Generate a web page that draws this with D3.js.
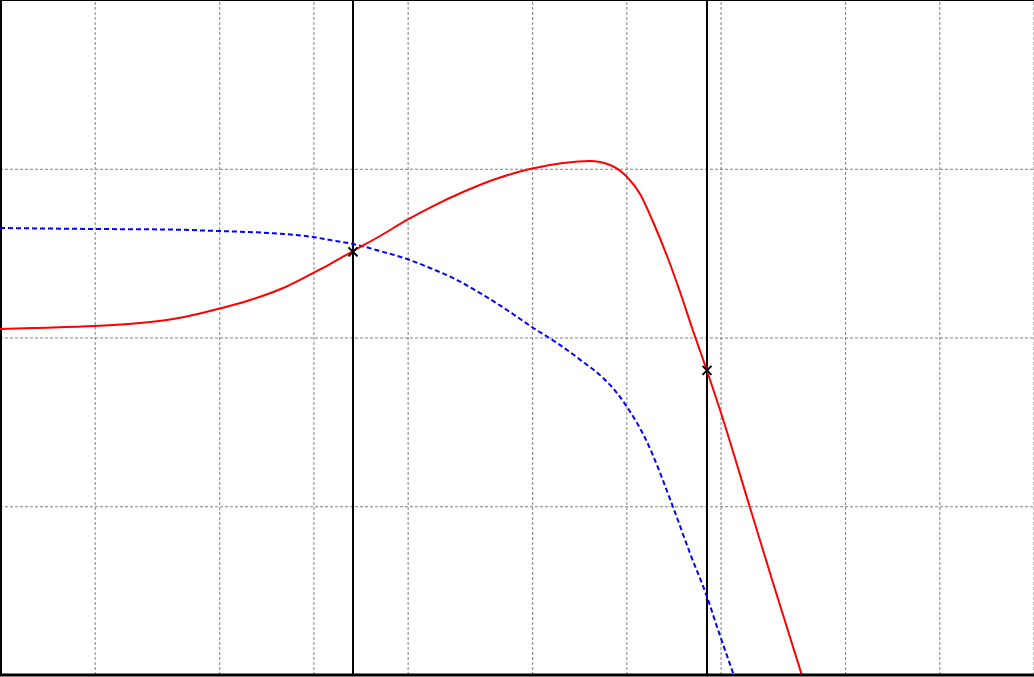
<!DOCTYPE html>
<html>
<head>
<meta charset="utf-8">
<script src="https://cdn.jsdelivr.net/npm/d3@7/dist/d3.min.js"></script>
<style>
html,body{margin:0;padding:0;background:#fff;}
svg{display:block;}
</style>
</head>
<body>
<svg id="chart" width="1034" height="677"></svg>
<script>
// ---- data ----
const xTicks = [2, 5, 10, 20, 50, 100, 200, 500, 1000, 2000];
const yTicks = [-20, 0, 20];

const redFreq = [1, 1.275, 2.01, 2.80, 3.57, 4.97, 6.16, 8.03, 10.0, 11.34, 13.43, 16.39, 19.98, 24.56, 30.18, 36.81, 49.4, 63.0, 76.8, 89.0, 100.9, 111.0, 122.2, 135.4, 149.0, 164.0, 181.8, 200.0, 249.5, 295.4, 365.7];
const redVal  = [1.01, 1.13, 1.36, 1.72, 2.19, 3.38, 4.33, 5.87, 7.64, 8.71, 10.25, 12.03, 13.93, 15.70, 17.24, 18.55, 19.97, 20.68, 20.92, 20.44, 19.02, 17.01, 13.69, 9.66, 5.39, 0.77, -3.97, -8.59, -20.21, -29.10, -40.1];

const blueFreq = [1, 2.01, 3.42, 4.97, 7.14, 10.0, 11.34, 13.43, 16.39, 19.98, 23.67, 28.87, 34.2, 41.7, 50.1, 60.3, 73.0, 84.6, 93.7, 100.9, 115.2, 141.5, 160.4, 181.8, 197.1, 220.1];
const blueVal  = [12.98, 12.86, 12.80, 12.62, 12.39, 11.91, 11.56, 11.08, 10.25, 9.30, 8.24, 6.81, 5.27, 3.26, 1.24, -0.65, -2.90, -4.80, -6.58, -8.24, -11.91, -20.09, -25.60, -30.76, -34.67, -39.76];

const cursorFreq = [13.43, 181.8];
const cursorVal  = [10.15, -3.9];

// ---- drawing ----
const W = 1034, H = 677;
const plotW = 1033, plotH = 675;
const svg = d3.select("#chart");

const x = d3.scaleLog().domain([1, 2000]).range([0, plotW]);
const y = d3.scaleLinear().domain([-40, 40]).range([plotH, 0]);

svg.append("defs").append("clipPath").attr("id", "clip")
  .append("rect").attr("x", 0).attr("y", 0).attr("width", W).attr("height", plotH);

// grid via axes
const gx = svg.append("g").attr("transform", `translate(0,${plotH})`)
  .call(d3.axisBottom(x).tickValues(xTicks).tickSize(-plotH).tickFormat(""));
gx.select(".domain").remove();
gx.selectAll(".tick line")
  .attr("transform", "translate(0.5,0)")
  .attr("stroke", "#808080").attr("stroke-width", 1).attr("stroke-dasharray", "3,2");

const gy = svg.append("g")
  .call(d3.axisLeft(y).tickValues(yTicks).tickSize(-W).tickFormat(""));
gy.select(".domain").remove();
gy.selectAll(".tick line")
  .attr("stroke", "#808080").attr("stroke-width", 1).attr("stroke-dasharray", "3,2");

// frame
svg.append("line").attr("x1", 1).attr("x2", 1).attr("y1", 0).attr("y2", plotH).attr("stroke", "#000").attr("stroke-width", 2);
svg.append("line").attr("x1", 0).attr("x2", W).attr("y1", 0.5).attr("y2", 0.5).attr("stroke", "#000").attr("stroke-width", 1);

// cursors (vertical lines)
svg.append("g").selectAll("line").data(cursorFreq).join("line")
  .attr("x1", d => Math.round(x(d))).attr("x2", d => Math.round(x(d)))
  .attr("y1", 0).attr("y2", plotH)
  .attr("stroke", "#000").attr("stroke-width", 2);

const line = d3.line().x(d => x(d[0])).y(d => y(d[1])).curve(d3.curveMonotoneX);

const blue = blueFreq.map((f, i) => [f, blueVal[i]]);
const red = redFreq.map((f, i) => [f, redVal[i]]);

const curves = svg.append("g").attr("clip-path", "url(#clip)");
curves.append("path").datum(blue).attr("d", line)
  .attr("fill", "none").attr("stroke", "#0000ff").attr("stroke-width", 2).attr("stroke-dasharray", "5,3");
curves.append("path").datum(red).attr("d", line)
  .attr("fill", "none").attr("stroke", "#ff0000").attr("stroke-width", 2);

// markers
const mk = svg.append("g");
cursorFreq.forEach((f, i) => {
  const cx = Math.round(x(f)), cy = y(cursorVal[i]), s = 4.5;
  mk.append("path")
    .attr("d", `M${cx - s},${cy - s}L${cx + s},${cy + s}M${cx - s},${cy + s}L${cx + s},${cy - s}`)
    .attr("stroke", "#000").attr("stroke-width", 2).attr("fill", "none");
});

// bottom frame
svg.append("line").attr("x1", 0).attr("x2", W).attr("y1", plotH).attr("y2", plotH).attr("stroke", "#000").attr("stroke-width", 3);
</script>
</body>
</html>
